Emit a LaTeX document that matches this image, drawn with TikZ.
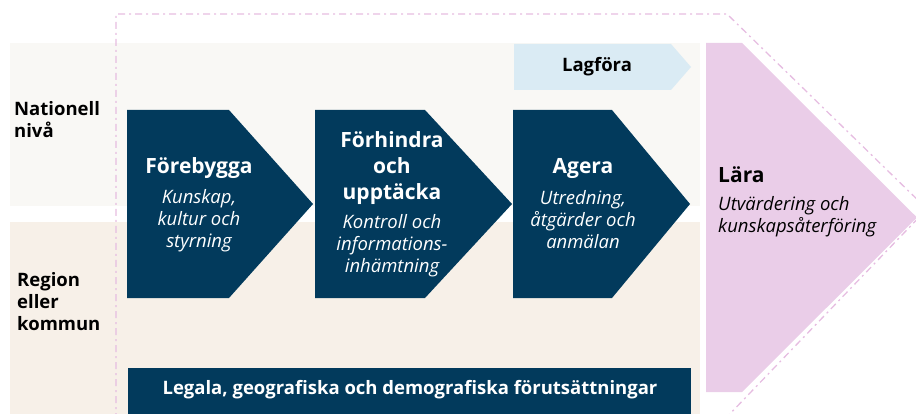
\documentclass[tikz,border=0pt]{standalone}
\usepackage{fontspec}
\setmainfont{Open Sans}
\definecolor{navy}{HTML}{023A5C}
\definecolor{bandtop}{HTML}{F9F8F5}
\definecolor{bandlow}{HTML}{F7F0E8}
\definecolor{lila}{HTML}{EACDE8}
\definecolor{lilaline}{HTML}{E6BDE1}
\definecolor{ljusbla}{HTML}{DAEBF4}
\tikzset{every picture/.style={x=1pt, y=-1pt}}
\tikzset{titel/.style={text=white, font=\bfseries\fontsize{21}{26}\selectfont, align=center, inner sep=0pt}}
\tikzset{undertext/.style={text=white, font=\itshape\fontsize{18.5}{22}\selectfont, align=center, inner sep=0pt}}
\tikzset{niva/.style={font=\bfseries\fontsize{18.5}{22}\selectfont, align=left, anchor=west, inner sep=0pt}}
\tikzset{ram/.style={lilaline, line width=1.3pt, dash pattern=on 7pt off 4pt on 2pt off 4pt}}
\newcommand{\pil}[5]{\fill[navy] (#1,#4) -- (#2,#4) -- (#3,{(#4+#5)/2}) -- (#2,#5) -- (#1,#5) -- cycle;}

\begin{document}
\begin{tikzpicture}
        \useasboundingbox (0,0) rectangle (916,414);
        \clip (0,0) rectangle (916,414);
        % bakgrund
        \fill[bandtop] (10,43) rectangle (700,206);
        \fill[bandlow] (10,222) rectangle (700,414);
        \draw[ram] (116,420) -- (116,14) -- (727,14) -- (927,209) -- (724,420);
        \fill[lila] (706,43) -- (742,43) -- (917,217.5) -- (742,392) -- (706,392) -- cycle;
        \fill[ljusbla] (514,44) -- (671,44) -- (691,67) -- (671,90) -- (514,90) -- cycle;
        \fill[navy] (128,368) rectangle (691,420);
        \pil{127}{229}{313}{110}{298}
        \pil{315}{425}{512}{110}{298}
        \pil{513}{612}{690}{110}{298}
        % texter
        \node[niva] (nationell) at (14,120) {Nationell\\nivå};
        \node[niva] (region) at (17,302) {Region\\eller\\kommun};
        \node[titel] (forebygga) at (199,168) {Förebygga};
        \node[undertext] (kunskap) at (199,221) {Kunskap,\\kultur och\\styrning};
        \node[titel] (forhindra) at (392,168) {Förhindra\\och\\upptäcka};
        \node[undertext] (kontroll) at (392,246) {Kontroll och\\informations-\\inhämtning};
        \node[titel] (agera) at (583,168) {Agera};
        \node[undertext] (utredning) at (583,220) {Utredning,\\åtgärder och\\anmälan};
        \node[titel, text=black, anchor=west] (lara) at (718,175) {Lära};
        \node[undertext, text=black, anchor=west, align=left] (utvardering) at (718,217) {Utvärdering och\\kunskapsåterföring};
        \node[font=\bfseries\fontsize{18.5}{22}\selectfont, inner sep=0pt] (lagfora) at (597,67) {Lagföra};
        \node[titel, font=\bfseries\fontsize{18.5}{22}\selectfont] (legala) at (410,390) {Legala, geografiska och demografiska förutsättningar};
    \end{tikzpicture}
\end{document}
